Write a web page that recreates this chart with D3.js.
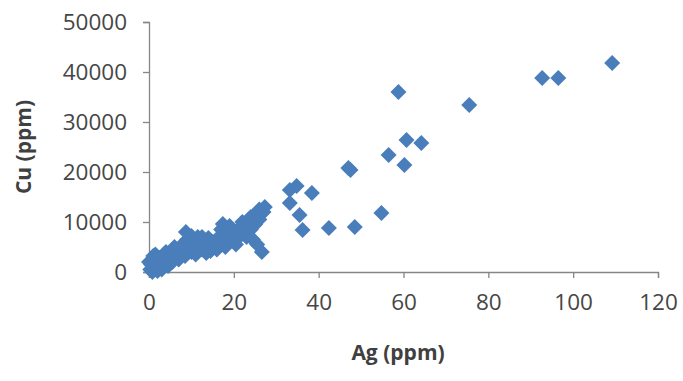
<!DOCTYPE html>
<html>
<head>
<meta charset="utf-8">
<script src="https://cdn.jsdelivr.net/npm/d3@7"></script>
<style>
  body { margin: 0; background: #fff; }
  .axis path, .axis line { stroke: #868686; stroke-width: 1.3px; }
  .axis text { font-family: "Open Sans", sans-serif; font-size: 22.5px; fill: #464646; }
  .title { font-family: "Open Sans", sans-serif; font-size: 21px; font-weight: bold; fill: #404040; }
</style>
</head>
<body>
<svg width="683" height="381"></svg>
<script>
// Ag (ppm) vs Cu (ppm)
const agValues = [
  0.3, 0.5, 0.8, 1, 1.2, 1.5, 2, 2, 2.5, 3, 3, 3.5, 4, 4.5, 5, 5.5, 6, 6.5, 7, 7.5,
  8, 8.5, 8.7, 9.5, 10, 10.5, 11, 11.5, 12, 12.5, 13, 13.5, 14, 14.5, 15, 15.5, 16, 16.5,
  17, 17.4, 18, 18, 18.5, 19, 19.5, 20, 20.5, 21, 21.5, 22, 22.5, 23, 23, 23.5, 24, 24.5,
  25, 25, 25.5, 26, 26.6, 27.3, 26,
  0, 1, 4, 6, 7.5, 9, 10, 11.5, 12.5, 14, 16, 19, 21, 22, 24, 27,
  33.2, 34.8, 38.4, 33.2, 35.5, 36.2, 42.4, 48.5, 54.8, 47.5, 47, 56.5, 60.7, 64.2, 60.2,
  58.8, 75.5, 92.7, 96.5, 109.2
];
const cuValues = [
  500, 1500, 0, 2500, 800, 3500, 1200, 200, 2800, 1800, 500, 3500, 2500, 1200, 3000, 2000, 4200, 3000, 2500, 3800,
  4500, 3200, 8000, 5000, 4000, 6000, 3500, 7000, 5500, 4500, 6500, 3800, 5000, 4200, 6000, 5000, 4500, 7000,
  8500, 9600, 6000, 5000, 7500, 8000, 6500, 7000, 5500, 8500, 7500, 9000, 8000, 9500, 7000, 10500, 8500, 6500,
  11500, 9500, 5500, 12500, 4000, 13000, 10500,
  2000, 3200, 4000, 5000, 5200, 6500, 7200, 5200, 7000, 6800, 5800, 9200, 6800, 10000, 11000, 12000,
  16400, 17200, 15800, 13800, 11400, 8400, 8800, 9000, 11800, 20400, 20800, 23400, 26400, 25800, 21400,
  36000, 33400, 38800, 38800, 41800
];
const xTicks = [0, 20, 40, 60, 80, 100, 120];
const yTicks = [0, 10000, 20000, 30000, 40000, 50000];

const points = agValues.map((ag, i) => ({ ag: ag, cu: cuValues[i] }));

const svg = d3.select('svg');

const x = d3.scaleLinear().domain([0, 120]).range([149, 658]);
const y = d3.scaleLinear().domain([0, 50000]).range([272, 22]);

svg.append('g')
    .attr('class', 'axis')
    .attr('transform', 'translate(0,272)')
    .call(d3.axisBottom(x).tickValues(xTicks).tickSize(6).tickSizeOuter(6).tickPadding(16))
    .call(g => g.selectAll('text').attr('dy', '0.71em'));

svg.append('g')
    .attr('class', 'axis')
    .attr('transform', 'translate(149,0)')
    .call(d3.axisLeft(y).tickValues(yTicks).tickSize(6).tickSizeOuter(6).tickPadding(16)
        .tickFormat(d3.format('d')));

// diamonds
const diamond = d3.symbol().type(d3.symbolSquare).size(128);
svg.append('g')
    .selectAll('path')
    .data(points)
    .enter().append('path')
    .attr('d', diamond)
    .attr('transform', d => 'translate(' + x(d.ag) + ',' + y(d.cu) + ') rotate(45)')
    .attr('fill', '#4A7EBB');

svg.append('text')
    .attr('class', 'title')
    .attr('x', 398)
    .attr('y', 360)
    .attr('text-anchor', 'middle')
    .text('Ag (ppm)');

svg.append('text')
    .attr('class', 'title')
    .attr('transform', 'translate(31,147) rotate(-90)')
    .attr('text-anchor', 'middle')
    .text('Cu (ppm)');
</script>
</body>
</html>
